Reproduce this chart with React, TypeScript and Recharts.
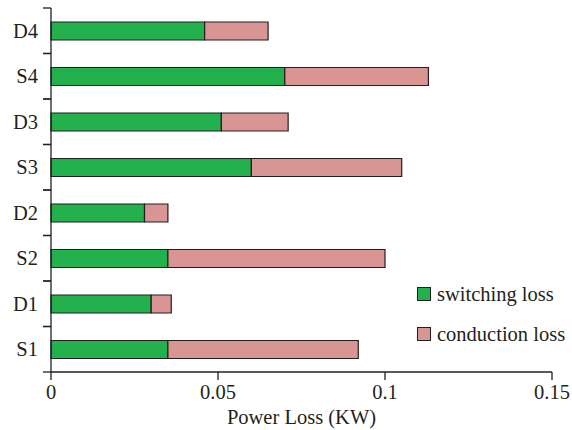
import { BarChart, Bar, XAxis, YAxis, Legend } from "recharts"

// bottom-to-top order
const categories = ["S1", "D1", "S2", "D2", "S3", "D3", "S4", "D4"]
const switchingLoss = [0.035, 0.03, 0.035, 0.028, 0.06, 0.051, 0.07, 0.046]
const conductionLoss = [0.057, 0.006, 0.065, 0.007, 0.045, 0.02, 0.043, 0.019]
const xTicks = [0, 0.05, 0.1, 0.15]
const legendOrder = ["switching loss", "conduction loss"]

const data = categories.map((name, i) => ({
  name,
  switching: switchingLoss[i],
  conduction: conductionLoss[i],
}))

const INK = "#231f20"
const FONT = "'Liberation Serif', 'Times New Roman', serif"
const FONT_SIZE = 20.5
const TICK_SIZE = 8
const TICK_MARGIN = 5

/**
 * Category label plus tick marks on the band edges (the original puts
 * its y ticks between categories, not at their centres).
 */
function CategoryTick(props: any) {
  const { x, y, payload } = props
  const half = payload?.offset ?? 0
  const axisX = x + TICK_SIZE + TICK_MARGIN
  return (
    <g>
      <line x1={axisX - TICK_SIZE} x2={axisX} y1={y - half} y2={y - half} stroke={INK} strokeWidth={1.3} />
      <line x1={axisX - TICK_SIZE} x2={axisX} y1={y + half} y2={y + half} stroke={INK} strokeWidth={1.3} />
      <text x={x} y={y} dy="0.35em" textAnchor="end" fill={INK} fontSize={FONT_SIZE} fontFamily={FONT}>
        {payload.value}
      </text>
    </g>
  )
}

function LossLegend({ payload }: any) {
  const items = [...(payload || [])].sort(
    (a: any, b: any) => legendOrder.indexOf(a.value) - legendOrder.indexOf(b.value)
  )
  return (
    <div style={{ fontFamily: FONT, fontSize: FONT_SIZE, color: INK }}>
      {items.map((item: any) => (
        <div key={item.value} style={{ display: "flex", alignItems: "center", height: 40 }}>
          <span
            style={{
              display: "inline-block",
              width: 12,
              height: 12,
              background: item.color,
              border: `1px solid ${INK}`,
            }}
          />
          <span style={{ marginLeft: 6, whiteSpace: "nowrap" }}>{item.value}</span>
        </div>
      ))}
    </div>
  )
}

export default function App() {
  return (
    <div style={{ position: "absolute", left: 0, top: 0, background: "#fff" }}>
      <BarChart
        width={572}
        height={430}
        data={data}
        layout="vertical"
        margin={{ top: 8, right: 20, left: 0, bottom: 0 }}
      >
        <XAxis
          type="number"
          domain={[0, 0.15]}
          ticks={xTicks}
          tickSize={TICK_SIZE}
          tickMargin={4}
          height={58}
          axisLine={{ stroke: INK, strokeWidth: 1.3 }}
          tickLine={{ stroke: INK, strokeWidth: 1.3 }}
          tick={{ fill: INK, fontSize: FONT_SIZE, fontFamily: FONT }}
          label={{
            value: "Power Loss (KW)",
            position: "insideBottom",
            offset: 6,
            style: { fill: INK, fontSize: FONT_SIZE, fontFamily: FONT },
          }}
        />
        <YAxis
          type="category"
          dataKey="name"
          reversed
          width={51}
          tickSize={TICK_SIZE}
          tickMargin={TICK_MARGIN}
          axisLine={{ stroke: INK, strokeWidth: 1.3 }}
          tickLine={false}
          tick={<CategoryTick />}
          interval={0}
        />
        <Legend
          layout="vertical"
          align="center"
          verticalAlign="middle"
          content={<LossLegend />}
          wrapperStyle={{ left: 417, top: 274, width: "auto", height: "auto" }}
        />
        <Bar
          dataKey="switching"
          name="switching loss"
          stackId="loss"
          fill="#22b14c"
          stroke={INK}
          strokeWidth={1.2}
          barSize={18}
          isAnimationActive={false}
        />
        <Bar
          dataKey="conduction"
          name="conduction loss"
          stackId="loss"
          fill="#d99594"
          stroke={INK}
          strokeWidth={1.2}
          barSize={18}
          isAnimationActive={false}
        />
      </BarChart>
    </div>
  )
}
